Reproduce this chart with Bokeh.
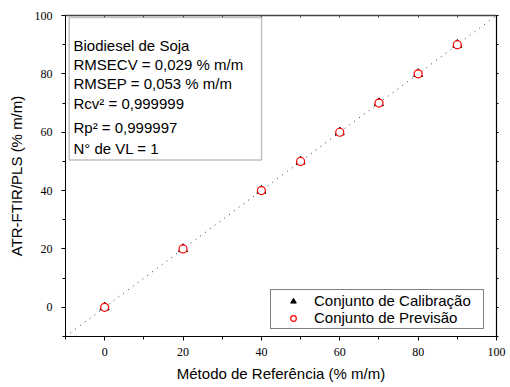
from bokeh.plotting import figure
from bokeh.models import (LinearAxis, SingleIntervalTicker, FixedTicker, Range1d, Label,
                          BoxAnnotation, Legend, LegendItem)
from bokeh.embed import file_html
from bokeh.resources import INLINE

# data
x_cal = [0, 20, 40, 50, 60, 70, 80, 90]
y_cal = [0.0, 20.0, 40.0, 50.0, 60.0, 70.0, 80.0, 90.0]
x_prev = [0, 20, 40, 50, 60, 70, 80, 90]
y_prev = [0.0, 20.0, 40.0, 50.0, 60.0, 70.0, 80.0, 90.0]
ideal_x = [-10, 100]
ideal_y = [-10, 100]
major_ticks = [0, 20, 40, 60, 80, 100]
stats_lines = ["Biodiesel de Soja", "RMSECV = 0,029 % m/m", "RMSEP = 0,053 % m/m",
               "Rcv² = 0,999999", "Rp² = 0,999997", "N° de VL = 1"]

SANS = "Liberation Sans"
SERIF = "Liberation Serif"

p = figure(width=508, height=384, output_backend="svg", toolbar_location=None,
           x_range=Range1d(-10, 100), y_range=Range1d(-10, 100),
           min_border_left=65, min_border_right=12, min_border_top=15, min_border_bottom=48)
p.grid.visible = False
p.outline_line_color = None
p.background_fill_color = "white"
p.border_fill_color = "white"

for ax in (p.xaxis[0], p.yaxis[0]):
    ax.ticker = FixedTicker(ticks=major_ticks, minor_ticks=[-10, 10, 30, 50, 70, 90])
    ax.axis_line_color = "black"
    ax.axis_line_width = 1
    ax.major_tick_out = 4
    ax.major_tick_in = 0
    ax.minor_tick_out = 3
    ax.minor_tick_in = 0
    ax.major_tick_line_color = "black"
    ax.minor_tick_line_color = "black"
    ax.major_label_text_font = SERIF
    ax.major_label_text_font_size = "12px"
    ax.major_label_text_color = "black"
    ax.axis_label_text_font = SANS
    ax.axis_label_text_font_size = "15px"
    ax.axis_label_text_font_style = "normal"
    ax.axis_label_text_color = "black"

p.xaxis[0].axis_label = "Método de Referência (% m/m)"
p.yaxis[0].axis_label = "ATR-FTIR/PLS (% m/m)"
p.xaxis[0].major_label_standoff = 7
p.xaxis[0].axis_label_standoff = 6
p.yaxis[0].major_label_standoff = 9
p.yaxis[0].axis_label_standoff = 7

top = LinearAxis(ticker=SingleIntervalTicker(interval=10, num_minor_ticks=0),
                 major_label_text_font_size="0px", major_label_standoff=0,
                 major_tick_in=2, major_tick_out=0, minor_tick_in=0, minor_tick_out=0,
                 axis_line_color="#444444", axis_line_width=1.5, major_tick_line_color="#444444")
right = LinearAxis(ticker=SingleIntervalTicker(interval=10, num_minor_ticks=0),
                   major_label_text_font_size="0px", major_label_standoff=0,
                   major_tick_in=0, major_tick_out=2, minor_tick_in=0, minor_tick_out=0,
                   axis_line_color="black", axis_line_width=1.2, major_tick_line_color="black")
p.add_layout(top, "above")
p.add_layout(right, "right")

# y = x reference line
p.line(ideal_x, ideal_y, line_color="#333333", line_width=1, line_dash="1 5")

r_cal = p.scatter(x_cal, y_cal, marker="triangle", size=9, fill_color="black", line_color="black")
r_prev = p.scatter(x_prev, y_prev, marker="circle", size=8, fill_color="white",
                   line_color="red", line_width=1.2)

# statistics box
box = BoxAnnotation(left=-9.06, right=40.03, top=99.31, bottom=50.5,
                    fill_color="white", fill_alpha=1.0, line_color="#333333", line_width=1.5)
p.add_layout(box)
baselines = [89.79, 83.16, 76.86, 69.75, 61.6, 54.52]
for txt, yb in zip(stats_lines, baselines):
    p.add_layout(Label(x=-7.96, y=yb, text=txt, text_font=SANS, text_font_size="15px",
                       text_color="black", text_baseline="alphabetic", text_align="left"))

legend = Legend(items=[LegendItem(label="Conjunto de Calibração", renderers=[r_cal]),
                       LegendItem(label="Conjunto de Previsão", renderers=[r_prev])],
                location=(205, 7), margin=0, padding=2, spacing=0,
                glyph_width=40, glyph_height=14, label_height=14, label_width=167,
                label_standoff=1, label_text_font=SANS, label_text_font_size="15px",
                label_text_color="black", border_line_color="black", border_line_width=1,
                background_fill_color="white", background_fill_alpha=1.0)
p.add_layout(legend)

open("out.html", "w").write(file_html(p, INLINE))
